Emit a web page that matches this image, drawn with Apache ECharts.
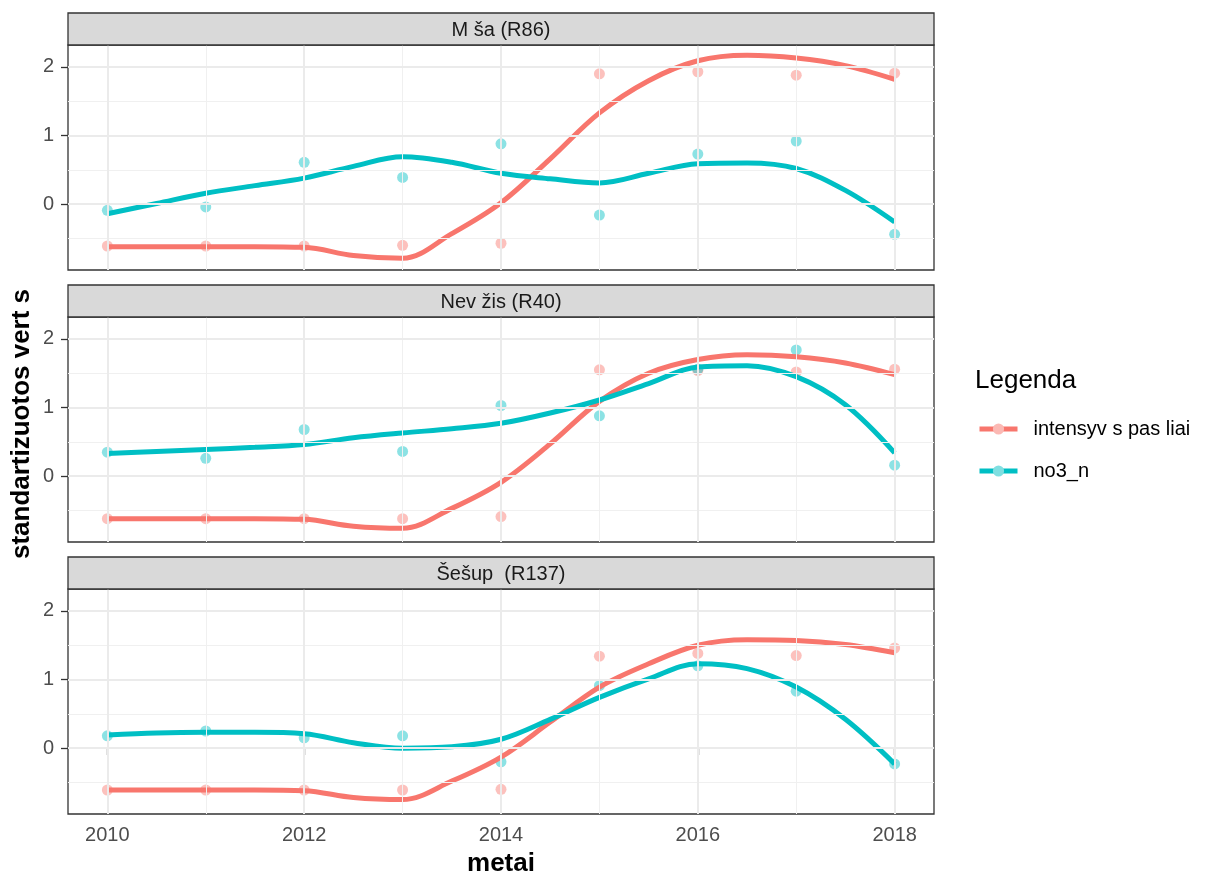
<!DOCTYPE html>
<html><head><meta charset="utf-8">
<script src="https://cdn.jsdelivr.net/npm/echarts@6/dist/echarts.min.js"></script>
<style>html,body{margin:0;padding:0;background:#fff}#c{width:1211px;height:875px}</style>
</head><body><div id="c"></div>
<script>
// ---- data ----
const panelTitles = ['M ša (R86)', 'Nev žis (R40)', 'Šešup  (R137)'];
const seriesNames = ['intensyv s pas liai', 'no3_n'];
const years = [2010, 2011, 2012, 2013, 2014, 2015, 2016, 2017, 2018];

const pointsRed1  = [-0.61, -0.61, -0.61, -0.60, -0.57, 1.90, 1.93, 1.88, 1.91];
const pointsBlue1 = [-0.09, -0.04, 0.61, 0.39, 0.88, -0.16, 0.73, 0.92, -0.44];
const pointsRed2  = [-0.62, -0.62, -0.62, -0.62, -0.59, 1.55, 1.54, 1.52, 1.56];
const pointsBlue2 = [0.35, 0.26, 0.68, 0.36, 1.03, 0.88, 1.56, 1.84, 0.16];
const pointsRed3  = [-0.61, -0.61, -0.61, -0.61, -0.60, 1.34, 1.38, 1.35, 1.46];
const pointsBlue3 = [0.18, 0.25, 0.15, 0.18, -0.20, 0.91, 1.20, 0.83, -0.23];

// smoothed (loess) curves at half-year steps
const smoothYears = [2010, 2010.5, 2011, 2011.5, 2012, 2012.5, 2013, 2013.5, 2014, 2014.5, 2015, 2015.5, 2016, 2016.5, 2017, 2017.5, 2018];
const fitRed1  = [-0.62, -0.62, -0.62, -0.62, -0.63, -0.75, -0.79, -0.43, 0.02, 0.66, 1.33, 1.80, 2.09, 2.17, 2.13, 2.02, 1.82];
const fitBlue1 = [-0.14, 0.01, 0.16, 0.27, 0.38, 0.55, 0.69, 0.61, 0.45, 0.37, 0.31, 0.45, 0.59, 0.60, 0.52, 0.20, -0.26];
const fitRed2  = [-0.62, -0.62, -0.62, -0.62, -0.63, -0.73, -0.76, -0.47, -0.09, 0.47, 1.09, 1.50, 1.70, 1.77, 1.74, 1.65, 1.48];
const fitBlue2 = [0.33, 0.36, 0.39, 0.42, 0.46, 0.56, 0.63, 0.69, 0.77, 0.92, 1.11, 1.35, 1.59, 1.61, 1.45, 1.04, 0.34];
const fitRed3  = [-0.61, -0.61, -0.61, -0.61, -0.62, -0.72, -0.75, -0.48, -0.13, 0.38, 0.89, 1.23, 1.50, 1.58, 1.57, 1.51, 1.39];
const fitBlue3 = [0.19, 0.22, 0.23, 0.23, 0.21, 0.08, 0.00, 0.02, 0.13, 0.42, 0.74, 1.01, 1.23, 1.16, 0.89, 0.42, -0.23];

const xTicks = [2010, 2012, 2014, 2016, 2018];
const xMinor = [2011, 2013, 2015, 2017];
const yTicks = [0, 1, 2];
const yMinor = [-0.5, 0.5, 1.5];
const xRange = [2009.6, 2018.4];
const yRange = [-0.96, 2.32];

// ---- style / layout ----
const RED = '#F8766D', BLUE = '#00BFC4';
const FONT = 'Liberation Sans, Arial, sans-serif';
const gridLeft = 68, gridWidth = 866;
const gridTops = [45, 317, 589];
const gridH = 225;
const stripH = 32;
const LW = 5;

const pointsRed = [pointsRed1, pointsRed2, pointsRed3];
const pointsBlue = [pointsBlue1, pointsBlue2, pointsBlue3];
const fitRed = [fitRed1, fitRed2, fitRed3];
const fitBlue = [fitBlue1, fitBlue2, fitBlue3];

const zip = (xs, ys) => xs.map((x, i) => [x, ys[i]]);

const grids = [], xAxes = [], yAxes = [], series = [], graphics = [];
for (let i = 0; i < 3; i++) {
  const last = i === 2;
  grids.push({left: gridLeft, width: gridWidth, top: gridTops[i], height: gridH,
    containLabel: false, outerBoundsMode: 'none',
    show: true, borderColor: '#333333', borderWidth: 1.3, backgroundColor: 'transparent'});
  xAxes.push({type: 'value', gridIndex: i, min: xRange[0], max: xRange[1],
    axisLine: {show: false}, splitLine: {show: false},
    axisTick: {show: last, length: 7, customValues: xTicks, lineStyle: {color: '#333333', width: 1.3}},
    axisLabel: {show: last, customValues: xTicks, margin: 11, color: '#4D4D4D', fontSize: 20, fontFamily: FONT,
      formatter: v => String(v)},
    name: last ? 'metai' : '', nameLocation: 'middle', nameGap: 37,
    nameTextStyle: {fontSize: 26, fontWeight: 'bold', color: '#000', fontFamily: FONT}});
  yAxes.push({type: 'value', gridIndex: i, min: yRange[0], max: yRange[1],
    axisLine: {show: false}, splitLine: {show: false},
    axisTick: {show: true, length: 7, customValues: yTicks, lineStyle: {color: '#333333', width: 1.3}},
    axisLabel: {customValues: yTicks, margin: 14, color: '#4D4D4D', fontSize: 20, fontFamily: FONT}});

  const gl = [];
  yMinor.forEach(v => gl.push({yAxis: v, lineStyle: {color: '#F0F0F0', width: 1, type: 'solid'}}));
  xMinor.forEach(v => gl.push({xAxis: v, lineStyle: {color: '#F0F0F0', width: 1, type: 'solid'}}));
  yTicks.forEach(v => gl.push({yAxis: v, lineStyle: {color: '#EBEBEB', width: 2, type: 'solid'}}));
  xTicks.forEach(v => gl.push({xAxis: v, lineStyle: {color: '#EBEBEB', width: 2, type: 'solid'}}));
  series.push({type: 'line', xAxisIndex: i, yAxisIndex: i, data: [], z: 1, silent: true,
    markLine: {silent: true, symbol: ['none', 'none'], label: {show: false}, animation: false, data: gl}});

  series.push({name: seriesNames[0], type: 'line', xAxisIndex: i, yAxisIndex: i, z: 4,
    data: zip(smoothYears, fitRed[i]), smooth: 0.35, symbol: 'circle', showSymbol: false,
    lineStyle: {color: RED, width: LW}, itemStyle: {color: RED}});
  series.push({name: seriesNames[1], type: 'line', xAxisIndex: i, yAxisIndex: i, z: 4,
    data: zip(smoothYears, fitBlue[i]), smooth: 0.35, symbol: 'circle', showSymbol: false,
    lineStyle: {color: BLUE, width: LW}, itemStyle: {color: BLUE}});
  series.push({name: seriesNames[0], type: 'scatter', xAxisIndex: i, yAxisIndex: i, z: 3,
    data: zip(years, pointsRed[i]), symbolSize: 11, itemStyle: {color: RED, opacity: 0.45}});
  series.push({name: seriesNames[1], type: 'scatter', xAxisIndex: i, yAxisIndex: i, z: 3,
    data: zip(years, pointsBlue[i]), symbolSize: 11, itemStyle: {color: BLUE, opacity: 0.45}});

  const sTop = gridTops[i] - stripH;
  graphics.push({type: 'rect', shape: {x: gridLeft, y: sTop, width: gridWidth, height: stripH},
    style: {fill: '#D9D9D9', stroke: '#333333', lineWidth: 1.3}, z: 10});
  graphics.push({type: 'text', x: gridLeft + gridWidth / 2, y: sTop + stripH / 2 + 1, z: 11,
    style: {text: panelTitles[i], fill: '#1A1A1A', font: '20px ' + FONT, textAlign: 'center', textVerticalAlign: 'middle'}});
}
graphics.push({type: 'text', x: 22, y: 424, rotation: Math.PI / 2, z: 11,
  style: {text: 'standartizuotos vert s', fill: '#000', font: 'bold 26px ' + FONT, textAlign: 'center', textVerticalAlign: 'middle'}});
graphics.push({type: 'text', x: 975, y: 381, z: 11,
  style: {text: 'Legenda', fill: '#000', font: '26px ' + FONT, textAlign: 'left', textVerticalAlign: 'middle'}});

const chart = echarts.init(document.getElementById('c'), null, {renderer: 'canvas'});
chart.setOption({
  animation: false,
  backgroundColor: '#fff',
  grid: grids, xAxis: xAxes, yAxis: yAxes, series: series,
  legend: {orient: 'vertical', left: 972, top: 414, itemWidth: 38, itemHeight: 14, itemGap: 22,
    selectedMode: false,
    lineStyle: {width: LW},
    textStyle: {fontSize: 20, color: '#000', fontFamily: FONT, padding: [0, 0, 0, 11]},
    data: [{name: seriesNames[0], itemStyle: {color: '#FBB9B4'}}, {name: seriesNames[1], itemStyle: {color: '#80DFE1'}}]},
  graphic: graphics
});
</script></body></html>
